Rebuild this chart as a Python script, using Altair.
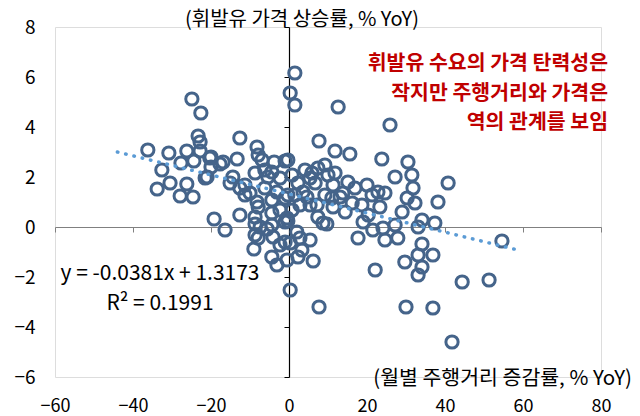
import altair as alt
import pandas as pd

# monthly mileage YoY (%), gasoline price YoY (%)
mileage_yoy = [
    -36.2, -33.8, -32.6, -30.5, -30.8, -27.7, -27.9, -26.2, -26.2, -24.9,
    -24.6, -24.4, -23.3, -22.8, -22.6, -22.8, -21.0, -20.0, -20.0, -19.2,
    -17.7, -16.9, -16.4, -15.1, -14.4, -13.3, -12.6, -12.6, -12.6, -11.3,
    -10.0, -9.0, -8.7, -8.7, -8.7, -8.2, -7.9, -8.2, -7.9, -7.9,
    -7.4, -6.9, -6.2, -5.6, -5.4, -4.4, -4.4, -4.4, -4.4, -4.1,
    -3.8, -3.1, -3.1, -2.3, -2.3, -1.0, -1.0, -1.0, -1.0, -0.5,
    -0.5, -0.3, -0.3, -0.3, 0.3, 0.3, 0.3, 0.8, 1.5, 1.5,
    2.0, 2.3, 2.3, 2.8, 3.3, 4.6, 5.4, 5.9, 6.2, 6.7,
    7.2, 7.4, 7.7, 7.7, 8.7, 9.2, 9.2, 9.7, 10.0, 11.0,
    11.3, 11.8, 12.6, 13.8, 14.4, 15.6, 16.9, 17.7, 18.7, 20.0,
    21.3, 21.5, 22.1, 23.3, 23.8, 24.6, 24.6, 25.9, 27.2, 27.2,
    27.9, 29.0, 29.7, 30.0, 30.3, 30.5, 31.5, 31.8, 32.3, 33.1,
    33.1, 33.1, 34.1, 34.1, 36.9, 36.9, 37.4, 38.2, 40.8, 41.8,
    44.4, 51.3, 54.6,
    4.1, 5.4, 7.4, 3.6, 11.3, 13.1, 16.2, 20.3, 19.0, 11.8,
    -8.7, -4.4, -20.3, -21.5, -11.3, -6.2, -2.3, 0.8, 1.5, 2.8,
    5.4, 15.1, 22.8, 24.1, 34.1,
]
price_yoy = [
    3.08, 1.52, 2.28, 1.76, 2.96, 2.56, 1.24, 3.04, 1.72, 5.12,
    1.20, 2.64, 3.64, 3.40, 4.56, 3.04, 2.00, 2.80, 2.40, 0.32,
    2.52, 2.60, -0.12, 1.76, 2.00, 2.72, 3.56, 1.56, 0.48, 1.28,
    1.36, -0.88, 2.16, 0.40, 0.12, 3.20, 2.88, 1.00, 0.80, -0.44,
    0.00, 2.68, 1.56, -0.08, 2.00, 2.20, 1.08, 0.56, -1.20, -0.40,
    2.60, 1.40, -1.52, 1.96, -0.72, 1.16, 2.64, 0.20, -0.60, 0.36,
    -1.32, 2.68, 1.28, 0.24, 5.36, -0.64, -2.52, 2.08, 6.16, 4.88,
    -0.20, 1.76, -1.20, 0.88, -0.92, 1.20, 0.88, 2.16, -1.36, 1.76,
    0.88, 0.40, 3.44, -3.20, 0.16, 2.48, 1.28, 0.12, 2.08, 1.16,
    1.68, 3.04, 4.80, 1.36, 0.60, 2.92, 1.56, -0.44, 0.88, 1.68,
    1.28, -0.12, -1.72, 0.80, 2.72, 1.36, -0.52, 4.08, 2.00, 0.08,
    -0.44, 0.60, -1.40, -3.20, 1.16, 2.60, 2.08, 1.56, 0.96, 0.00,
    -1.12, -1.92, 0.28, -0.68, -1.12, -3.24, 0.16, 1.00, 1.76, -4.60,
    -2.20, -2.12, -0.56,
    2.28, 1.96, 2.36, 1.40, 0.80, 1.20, 0.96, 0.48, 0.20, 2.16,
    -0.32, 0.08, 2.76, 1.96, 1.68, 2.28, 0.68, 0.68, 1.28, -0.44,
    -0.52, 1.80, 1.40, -0.04, -1.60,
]

# dotted linear trend, end points
trend_x = [-44.0, 58.7]
trend_y = [3.00, -0.92]

x_ticks = [-60, -40, -20, 0, 20, 40, 60, 80]
y_ticks = [-6, -4, -2, 0, 2, 4, 6, 8]

y_title = "(휘발유 가격 상승률, % YoY)"
x_title = "(월별 주행거리 증감률, % YoY)"
note_lines = ["휘발유 수요의 가격 탄력성은", "작지만 주행거리와 가격은", "역의 관계를 보임"]
eq_lines = ["y = -0.0381x + 1.3173", "R² = 0.1991"]

FONT = "Noto Sans CJK KR"

points = pd.DataFrame({"x": mileage_yoy, "y": price_yoy})
trend = pd.DataFrame({"x": trend_x, "y": trend_y})
one = pd.DataFrame({"a": [0]})

xscale = alt.Scale(domain=[-60, 80], nice=False, zero=False)
yscale = alt.Scale(domain=[-6, 8], nice=False, zero=False)

xaxis = alt.Axis(values=x_ticks, offset=-150, labelPadding=165, tickSize=5,
                 domainColor="#808080", tickColor="#808080", domainWidth=1.2,
                 grid=False, title=None, labelFontSize=18, labelColor="#000000",
                 labelFont=FONT, labelFlush=False, labelOverlap=False)
yaxis = alt.Axis(values=y_ticks, offset=-234, labelPadding=249, tickSize=5,
                 domainColor="#000000", tickColor="#000000", domainWidth=1.2,
                 grid=False, title=None, labelFontSize=19, labelColor="#000000",
                 labelFont=FONT, labelFlush=False, labelOverlap=False)

pts = alt.Chart(points).mark_point(
    shape="circle", filled=False, size=150, strokeWidth=3,
    color="#45648A", opacity=1
).encode(
    x=alt.X("x:Q", scale=xscale, axis=xaxis),
    y=alt.Y("y:Q", scale=yscale, axis=yaxis),
)

line = alt.Chart(trend).mark_line(
    color="#5B9BD5", strokeWidth=3.5, strokeDash=[0.5, 8], strokeCap="round"
).encode(x=alt.X("x:Q", scale=xscale), y=alt.Y("y:Q", scale=yscale))

ytitle = alt.Chart(one).mark_text(
    text=y_title, font=FONT, fontSize=20, color="#000000",
    align="center", baseline="middle"
).encode(x=alt.value(247), y=alt.value(-7))

xtitle = alt.Chart(one).mark_text(
    text=x_title, font=FONT, fontSize=20.5, color="#000000",
    align="right", baseline="middle"
).encode(x=alt.value(577), y=alt.value(352))

note = alt.Chart(one).mark_text(
    text=note_lines, font=FONT, fontSize=20.5, fontWeight="bold", color="#C00000",
    align="right", baseline="middle", lineHeight=29.5
).encode(x=alt.value(553), y=alt.value(37))

eq = alt.Chart(one).mark_text(
    text=eq_lines, font=FONT, fontSize=21, color="#000000",
    align="center", baseline="middle", lineHeight=30
).encode(x=alt.value(105), y=alt.value(247))

chart = alt.layer(pts, line, ytitle, xtitle, note, eq).properties(
    width=546, height=350,
    autosize=alt.AutoSizeParams(type="none"),
    padding={"left": 47, "top": 19, "right": 31, "bottom": 39},
).configure_view(stroke=None).configure(background="white")

chart.save("out.html", embed_options={"renderer": "svg", "actions": False})
